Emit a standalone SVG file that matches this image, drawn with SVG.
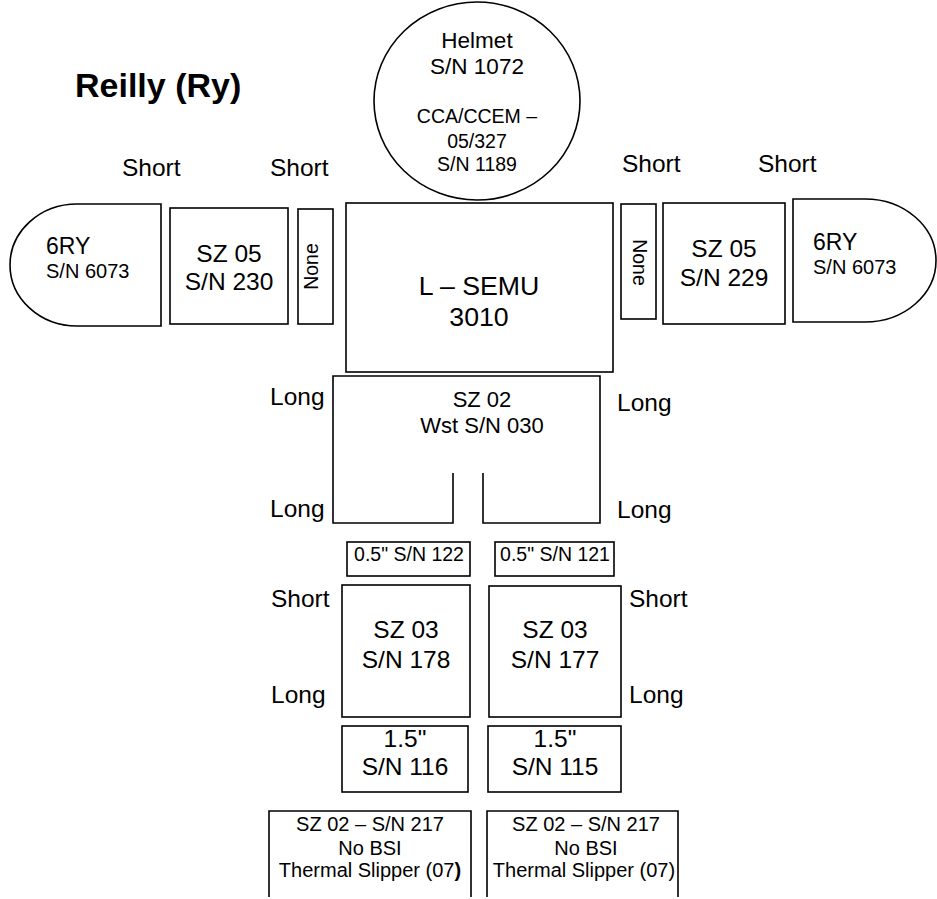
<svg xmlns="http://www.w3.org/2000/svg" width="937" height="899" viewBox="0 0 937 899">
<style>
  .s { fill: #fff; stroke: #000; stroke-width: 1.6; }
  .o { fill: none; stroke: #000; stroke-width: 1.6; }
  text { font-family: "Liberation Sans", Arial, sans-serif; fill: #000; }
  .c { text-anchor: middle; }
  .f24 { font-size: 24.5px; }
  .f20 { font-size: 20px; }
  .f19 { font-size: 19.5px; }
</style>
<rect width="937" height="899" fill="#fff"/>
<g id="title">
  <text x="75" y="97" style="font-size:34px;font-weight:bold">Reilly (Ry)</text>
</g>
<g id="labels" class="f24">
  <text x="122" y="176">Short</text>
  <text x="270" y="176">Short</text>
  <text x="622" y="172">Short</text>
  <text x="758" y="172">Short</text>
  <text x="270" y="405">Long</text>
  <text x="617" y="411">Long</text>
  <text x="270" y="517">Long</text>
  <text x="617" y="518">Long</text>
  <text x="271" y="607">Short</text>
  <text x="629" y="607">Short</text>
  <text x="271" y="703">Long</text>
  <text x="629" y="703">Long</text>
</g>
<g id="helmet">
  <ellipse class="s" cx="477" cy="101" rx="103" ry="99"/>
  <text class="c" x="477" y="48" style="font-size:22.5px">Helmet</text>
  <text class="c" x="477" y="74" style="font-size:22.5px">S/N 1072</text>
  <text class="c f19" x="477" y="123">CCA/CCEM –</text>
  <text class="c f19" x="477" y="148">05/327</text>
  <text class="c f19" x="477" y="171">S/N 1189</text>
</g>
<g id="left-glove">
  <path class="s" d="M161,204 H77 A67,61 0 0 0 10,265 A67,61 0 0 0 77,326 H161 Z"/>
  <text x="46" y="254" style="font-size:23px">6RY</text>
  <text x="46" y="278" class="f20">S/N 6073</text>
</g>
<g id="left-arm">
  <rect class="s" x="170" y="208" width="118" height="116"/>
  <text class="c f24" x="229" y="262">SZ 05</text>
  <text class="c f24" x="229" y="290">S/N 230</text>
</g>
<g id="left-none">
  <rect class="s" x="298" y="209" width="35" height="115"/>
  <text class="c f19" transform="translate(318,266.5) rotate(-90)">None</text>
</g>
<g id="torso">
  <rect class="s" x="346" y="203" width="267" height="169"/>
  <text class="c" x="479" y="295" style="font-size:26.7px">L – SEMU</text>
  <text class="c" x="479" y="326" style="font-size:26.7px">3010</text>
</g>
<g id="right-none">
  <rect class="s" x="621" y="204" width="35" height="115"/>
  <text class="c f19" transform="translate(633,262.5) rotate(90)">None</text>
</g>
<g id="right-arm">
  <rect class="s" x="663" y="203" width="122" height="121"/>
  <text class="c f24" x="724" y="257">SZ 05</text>
  <text class="c f24" x="724" y="286">S/N 229</text>
</g>
<g id="right-glove">
  <path class="s" d="M793,199 H865 A71,61.5 0 0 1 936,260.5 A71,61.5 0 0 1 865,322 H793 Z"/>
  <text x="813" y="250" style="font-size:23px">6RY</text>
  <text x="813" y="274" class="f20">S/N 6073</text>
</g>
<g id="pants">
  <path class="o" d="M453,473 V523 H333 V376 H600 V523 H483 V473"/>
  <text class="c" x="482" y="407" style="font-size:22px">SZ 02</text>
  <text class="c" x="482" y="433" style="font-size:22px">Wst S/N 030</text>
</g>
<g id="left-knee">
  <rect class="s" x="347" y="542" width="123" height="34"/>
  <text class="c f19" x="409" y="561">0.5" S/N 122</text>
</g>
<g id="right-knee">
  <rect class="s" x="495" y="542" width="119" height="34"/>
  <text class="c f19" x="555" y="561">0.5" S/N 121</text>
</g>
<g id="left-shin">
  <rect class="s" x="342" y="585" width="128" height="132"/>
  <text class="c f24" x="406" y="638">SZ 03</text>
  <text class="c f24" x="406" y="668">S/N 178</text>
</g>
<g id="right-shin">
  <rect class="s" x="489" y="586" width="132" height="131"/>
  <text class="c f24" x="555" y="638">SZ 03</text>
  <text class="c f24" x="555" y="668">S/N 177</text>
</g>
<g id="left-ankle">
  <rect class="s" x="342" y="726" width="126" height="66"/>
  <text class="c f24" x="405" y="747">1.5"</text>
  <text class="c f24" x="405" y="775">S/N 116</text>
</g>
<g id="right-ankle">
  <rect class="s" x="488" y="726" width="133" height="66"/>
  <text class="c f24" x="555" y="747">1.5"</text>
  <text class="c f24" x="555" y="775">S/N 115</text>
</g>
<g id="left-boot">
  <path class="o" d="M269,897 V811 H471 V897"/>
  <text class="c f20" x="370" y="831">SZ 02 – S/N 217</text>
  <text class="c f20" x="370" y="855">No BSI</text>
  <text class="c f20" x="370" y="877">Thermal Slipper (07<tspan font-weight="bold">)</tspan></text>
</g>
<g id="right-boot">
  <path class="o" d="M487,897 V811 H678 V897"/>
  <text class="c f20" x="586" y="831">SZ 02 – S/N 217</text>
  <text class="c f20" x="586" y="855">No BSI</text>
  <text class="c f20" x="584" y="877">Thermal Slipper (07)</text>
</g>
<g id="connectors"></g>
</svg>
